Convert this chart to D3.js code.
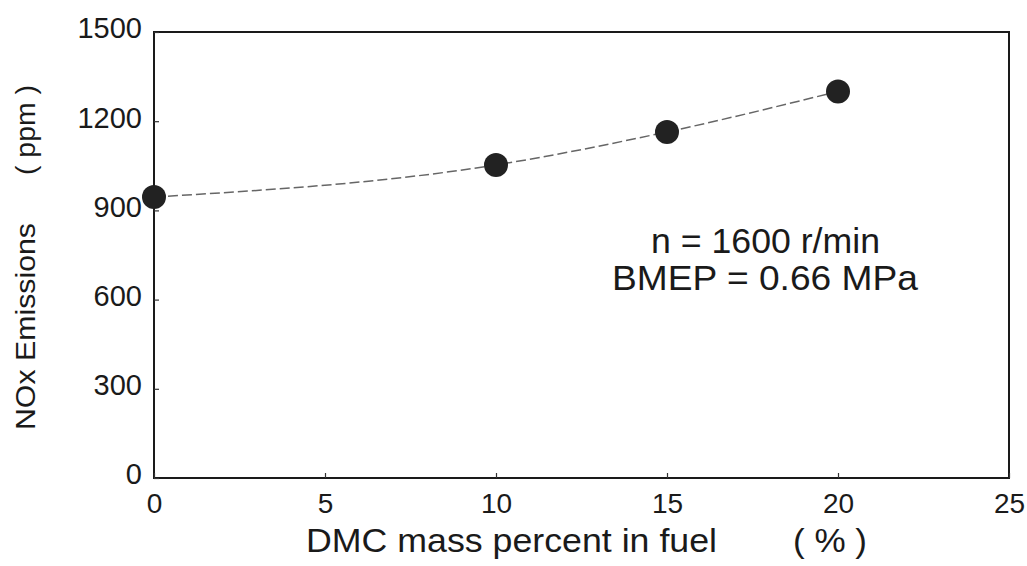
<!DOCTYPE html>
<html>
<head>
<meta charset="utf-8">
<script src="https://cdn.jsdelivr.net/npm/d3@7"></script>
<style>
  html, body { margin: 0; padding: 0; background: #fff; }
  text { font-family: Arial, "Liberation Sans", sans-serif; fill: #1a1a1a; }
</style>
</head>
<body>
<svg id="chart" width="1027" height="566"></svg>
<script>
// ---- data ----
const dmcPercent = [0, 10, 15, 20];
const noxPpm = [945, 1053, 1164, 1300];
const xTicks = [0, 5, 10, 15, 20, 25];
const yTicks = [0, 300, 600, 900, 1200, 1500];
const xTitle = "DMC mass percent in fuel";
const xUnit = "( % )";
const yTitle = "NOx Emissions";
const yUnit = "( ppm )";
const noteLines = ["n = 1600 r/min", "BMEP = 0.66 MPa"];

// ---- layout ----
const svg = d3.select("#chart");
const mLeft = 154, mRight = 1009, mTop = 32, mBottom = 478;

const x = d3.scaleLinear().domain([0, 25]).range([mLeft, mRight]);
const y = d3.scaleLinear().domain([0, 1500]).range([mBottom, mTop]);

// frame
svg.append("rect")
  .attr("x", mLeft).attr("y", mTop)
  .attr("width", mRight - mLeft).attr("height", mBottom - mTop)
  .attr("fill", "none").attr("stroke", "#1a1a1a").attr("stroke-width", 2);

// y axis
const yAxis = d3.axisLeft(y).tickValues(yTicks).tickFormat(d3.format("d"))
  .tickSizeInner(-5).tickSizeOuter(0).tickPadding(12);
const gy = svg.append("g").attr("transform", `translate(${mLeft},0)`).call(yAxis);
gy.select(".domain").remove();
gy.selectAll("line").attr("stroke", "#333").attr("stroke-width", 1.2);
gy.selectAll("text").attr("font-size", 29).attr("dy", "0.2em")
  .attr("font-family", "Arial, 'Liberation Sans', sans-serif").attr("fill", "#1a1a1a");

// x axis
const xAxis = d3.axisBottom(x).tickValues(xTicks).tickFormat(d3.format("d"))
  .tickSizeInner(-5).tickSizeOuter(0).tickPadding(15);
const gx = svg.append("g").attr("transform", `translate(0,${mBottom})`).call(xAxis);
gx.select(".domain").remove();
gx.selectAll("line").attr("stroke", "#333").attr("stroke-width", 1.2);
gx.selectAll("text").attr("font-size", 28)
  .attr("font-family", "Arial, 'Liberation Sans', sans-serif").attr("fill", "#1a1a1a");

// axis titles
svg.append("text").attr("x", 306).attr("y", 552)
  .attr("font-size", 33).attr("textLength", 411).attr("lengthAdjust", "spacingAndGlyphs").text(xTitle);
svg.append("text").attr("x", 793).attr("y", 552)
  .attr("font-size", 33).attr("textLength", 74).attr("lengthAdjust", "spacingAndGlyphs").text(xUnit);

svg.append("text").attr("transform", "translate(35,430) rotate(-90)")
  .attr("font-size", 28).attr("textLength", 207).attr("lengthAdjust", "spacingAndGlyphs").text(yTitle);
svg.append("text").attr("transform", "translate(35,175) rotate(-90)")
  .attr("font-size", 28).attr("textLength", 90).attr("lengthAdjust", "spacingAndGlyphs").text(yUnit);

// curve
const data = dmcPercent.map((d, i) => ({ x: d, y: noxPpm[i] }));
const line = d3.line().x(d => x(d.x)).y(d => y(d.y)).curve(d3.curveMonotoneX);
svg.append("path").datum(data)
  .attr("d", line)
  .attr("fill", "none").attr("stroke", "#666")
  .attr("stroke-width", 1.5).attr("stroke-dasharray", "10,4");

// points
svg.selectAll("circle.pt").data(data).enter().append("circle")
  .attr("class", "pt")
  .attr("cx", d => x(d.x)).attr("cy", d => y(d.y)).attr("r", 12)
  .attr("fill", "#222");

// annotation
svg.append("text").attr("x", 651).attr("y", 253)
  .attr("font-size", 35).attr("textLength", 229).attr("lengthAdjust", "spacingAndGlyphs").text(noteLines[0]);
svg.append("text").attr("x", 612).attr("y", 290)
  .attr("font-size", 35).attr("textLength", 306).attr("lengthAdjust", "spacingAndGlyphs").text(noteLines[1]);
</script>
</body>
</html>
